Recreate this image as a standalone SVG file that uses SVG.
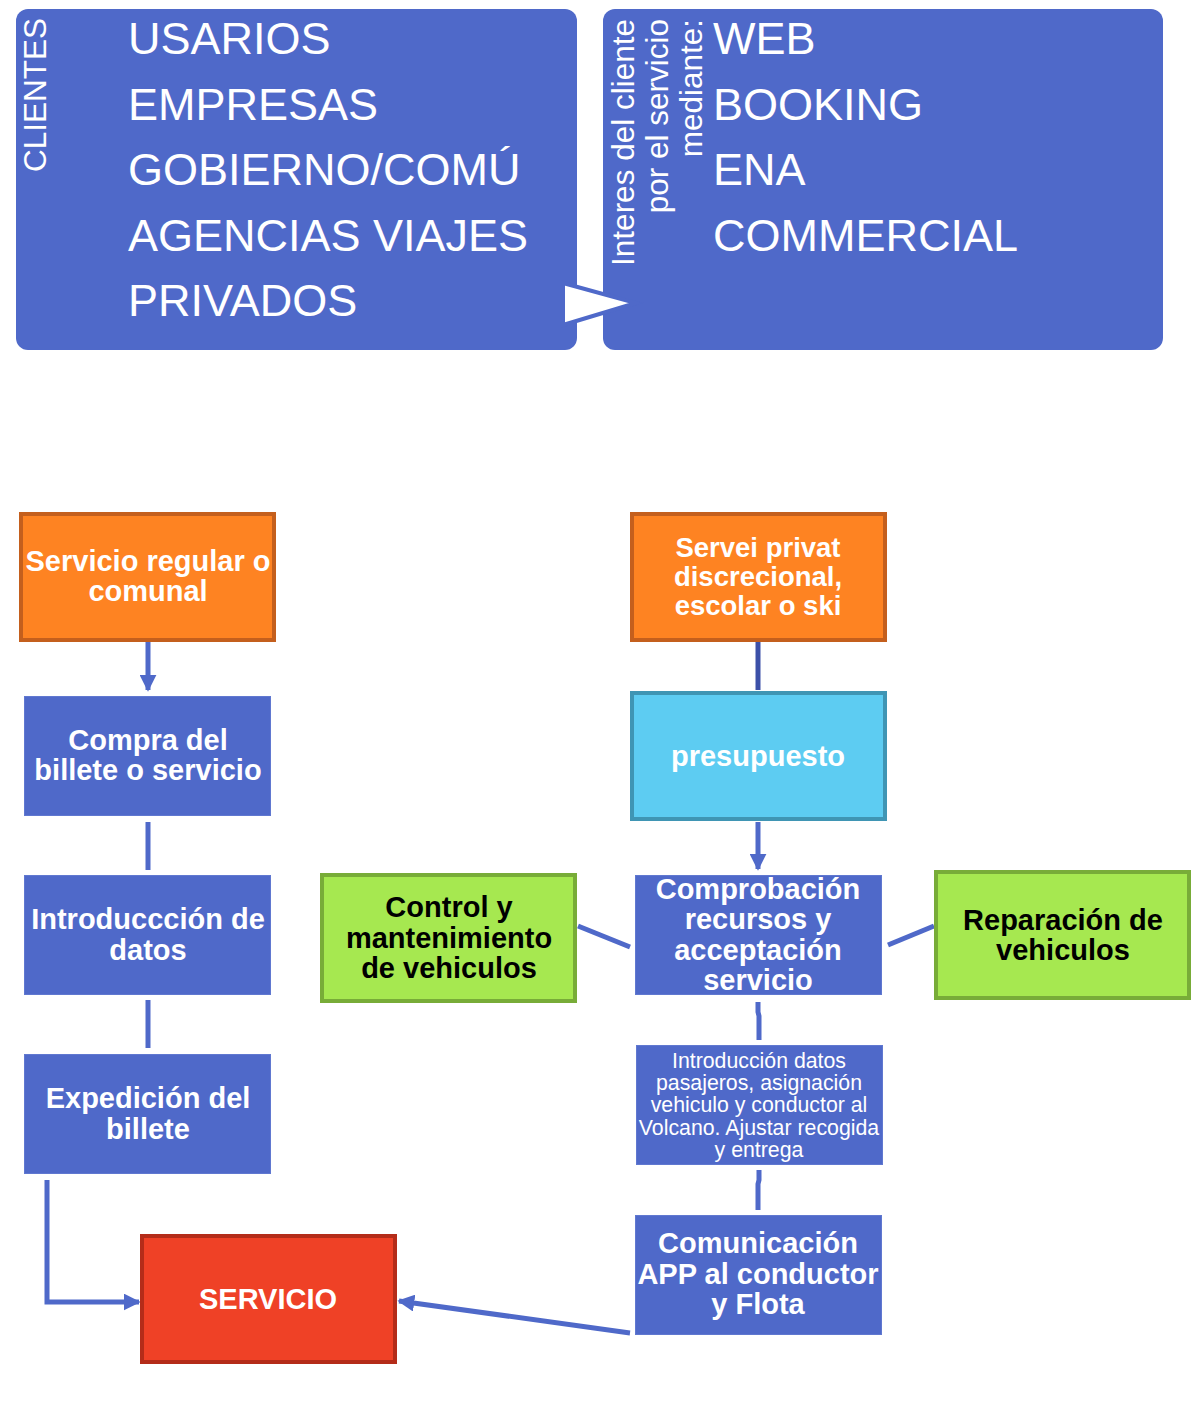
<svg xmlns="http://www.w3.org/2000/svg" width="1197" height="1405" viewBox="0 0 1197 1405">
<defs>
<style>
text{font-family:"Liberation Sans",Arial,sans-serif}
.big{font-size:45px;fill:#fff}
.rot{font-size:31.5px;fill:#fff;text-anchor:end}
.b{font-size:29px;font-weight:bold;fill:#fff;text-anchor:middle}
.b28{font-size:27.5px;font-weight:bold;fill:#fff;text-anchor:middle}
.bk{font-size:29px;font-weight:bold;fill:#000;text-anchor:middle}
.s{font-size:21.3px;fill:#fff;text-anchor:middle}
.blue{fill:#4F69C9;stroke:#6078d0;stroke-width:1}
.orange{fill:#FE8322;stroke:#C45F1D;stroke-width:4}
.green{fill:#A6E850;stroke:#78AC38;stroke-width:4}
.cyan{fill:#5DCCF2;stroke:#3F95B4;stroke-width:4}
.red{fill:#EF4126;stroke:#B42C19;stroke-width:4}
.con{stroke:#4F69C9;stroke-width:5;fill:none}
</style>
<marker id="ah" viewBox="0 0 10 10" refX="9" refY="5" markerWidth="3.4" markerHeight="3.4" orient="auto" markerUnits="strokeWidth">
<path d="M0,0 L10,5 L0,10 z" fill="#4F69C9"/>
</marker>
</defs>

<g id="clientes">
<rect x="16" y="9" width="561" height="341" rx="12" fill="#4F69C9"/>
<text class="rot" style="text-anchor:start" transform="translate(46,172) rotate(-90)">CLIENTES</text>
<text class="big" x="128" y="54">USARIOS</text>
<text class="big" x="128" y="120">EMPRESAS</text>
<text class="big" x="128" y="185">GOBIERNO/COMÚ</text>
<text class="big" x="128" y="251">AGENCIAS VIAJES</text>
<text class="big" x="128" y="316">PRIVADOS</text>
</g>

<g id="interes">
<rect x="603" y="9" width="560" height="341" rx="12" fill="#4F69C9"/>
<text class="rot" transform="translate(634,19) rotate(-90)">Interes del cliente</text>
<text class="rot" transform="translate(668,19) rotate(-90)">por el servicio</text>
<text class="rot" transform="translate(702,19) rotate(-90)">mediante:</text>
<text class="big" x="713" y="54">WEB</text>
<text class="big" x="713" y="120">BOOKING</text>
<text class="big" x="713" y="185">ENA</text>
<text class="big" x="713" y="251">COMMERCIAL</text>
</g>

<g id="connectors">
<polygon points="563,283 636,303 563,325" fill="#fff" stroke="#4F69C9" stroke-width="4"/>
<line class="con" x1="148" y1="642" x2="148" y2="690" marker-end="url(#ah)"/>
<line class="con" x1="148" y1="822" x2="148" y2="870"/>
<line class="con" x1="148" y1="1000" x2="148" y2="1048"/>
<polyline class="con" points="47,1180 47,1302 139,1302" marker-end="url(#ah)"/>
<line class="con" x1="630" y1="1333" x2="399" y2="1301" marker-end="url(#ah)"/>
<line x1="758" y1="642" x2="758" y2="690" stroke="#3C50A8" stroke-width="5"/>
<line class="con" x1="758" y1="822" x2="758" y2="869" marker-end="url(#ah)"/>
<line class="con" x1="578" y1="926" x2="630" y2="947"/>
<line class="con" x1="888" y1="945" x2="934" y2="926"/>
<polyline class="con" points="758,1002 758,1012 759,1016 759,1040"/>
<polyline class="con" points="759,1170 759,1180 758,1184 758,1210"/>
</g>

<g id="servicio-regular">
<rect class="orange" x="21" y="514" width="253" height="126"/>
<text class="b" x="148" y="571">Servicio regular o</text>
<text class="b" x="148" y="601">comunal</text>
</g>

<g id="compra">
<rect class="blue" x="24.5" y="696.5" width="246" height="119"/>
<text class="b" x="148" y="750">Compra del</text>
<text class="b" x="148" y="780">billete o servicio</text>
</g>

<g id="introduccion">
<rect class="blue" x="24.5" y="875.5" width="246" height="119"/>
<text class="b" x="148" y="929">Introduccción de</text>
<text class="b" x="148" y="960">datos</text>
</g>

<g id="expedicion">
<rect class="blue" x="24.5" y="1054.5" width="246" height="119"/>
<text class="b" x="148" y="1108">Expedición del</text>
<text class="b" x="148" y="1139">billete</text>
</g>

<g id="servicio">
<rect class="red" x="142" y="1236" width="253" height="126"/>
<text class="b" x="268" y="1309">SERVICIO</text>
</g>

<g id="servei-privat">
<rect class="orange" x="632" y="514" width="253" height="126"/>
<text class="b28" x="758" y="557">Servei privat</text>
<text class="b28" x="758" y="586">discrecional,</text>
<text class="b28" x="758" y="615">escolar o ski</text>
</g>

<g id="presupuesto">
<rect class="cyan" x="632" y="693" width="253" height="126"/>
<text class="b" x="758" y="766">presupuesto</text>
</g>

<g id="comprobacion">
<rect class="blue" x="635.5" y="875.5" width="246" height="119"/>
<text class="b" x="758" y="899">Comprobación</text>
<text class="b" x="758" y="929">recursos y</text>
<text class="b" x="758" y="960">acceptación</text>
<text class="b" x="758" y="990">servicio</text>
</g>

<g id="control">
<rect class="green" x="322" y="875" width="253" height="126"/>
<text class="bk" x="449" y="917">Control y</text>
<text class="bk" x="449" y="948">mantenimiento</text>
<text class="bk" x="449" y="978">de vehiculos</text>
</g>

<g id="reparacion">
<rect class="green" x="936" y="872" width="253" height="126"/>
<text class="bk" x="1063" y="930">Reparación de</text>
<text class="bk" x="1063" y="960">vehiculos</text>
</g>

<g id="introduccion-datos">
<rect class="blue" x="636.5" y="1045.5" width="246" height="119"/>
<text class="s" x="759" y="1068">Introducción datos</text>
<text class="s" x="759" y="1090">pasajeros, asignación</text>
<text class="s" x="759" y="1112">vehiculo y conductor al</text>
<text class="s" x="759" y="1135">Volcano. Ajustar recogida</text>
<text class="s" x="759" y="1157">y entrega</text>
</g>

<g id="comunicacion">
<rect class="blue" x="635.5" y="1215.5" width="246" height="119"/>
<text class="b" x="758" y="1253">Comunicación</text>
<text class="b" x="758" y="1284">APP al conductor</text>
<text class="b" x="758" y="1314">y Flota</text>
</g>
</svg>
